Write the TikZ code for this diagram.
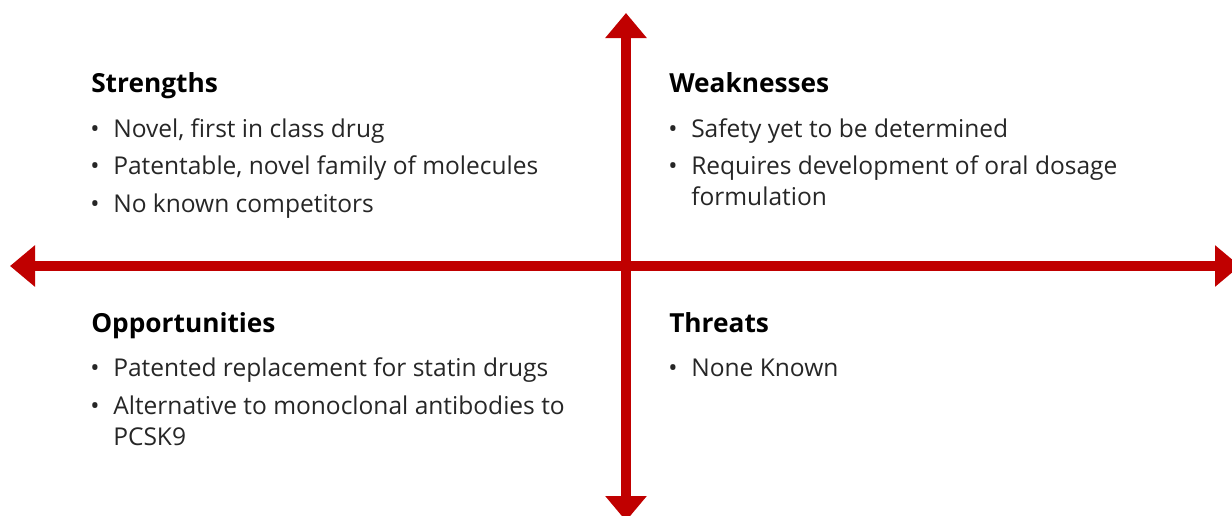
\documentclass[tikz,border=0pt]{standalone}
\usepackage{fontspec}
\setmainfont{Open Sans}
\usetikzlibrary{arrows.meta}
\definecolor{axisred}{HTML}{C00000}
\begin{document}
\begin{tikzpicture}[x=0.75pt,y=-0.75pt,
  axis/.style={draw=axisred,line width=7.5pt,{Triangle[length=18.75pt,width=30pt]}-{Triangle[length=18.75pt,width=30pt]}, fill=axisred},
  head/.style={anchor=base west,inner sep=0pt,font=\fontsize{19.7pt}{24pt}\selectfont\bfseries,text=black},
  item/.style={anchor=base west,inner sep=0pt,font=\fontsize{18.4pt}{22pt}\selectfont,text=black!85},
  dot/.style={anchor=base west,inner sep=0pt,font=\fontsize{18.4pt}{22pt}\selectfont,text=black!85}]
\useasboundingbox (0,0) rectangle (1232,515);
\coordinate (T) at (626,13);
\coordinate (B) at (626,521);
\coordinate (L) at (10,266);
\coordinate (R) at (1240,266);
\draw[axis] (L) -- (R);
\draw[axis] (T) -- (B);
% Strengths
\node[head] (sh) at (91,92) {Strengths};
\node[dot] (sd1) at (90,137) {•}; \node[item] (s1) at (113,137) {Novel, first in class drug};
\node[dot] (sd2) at (90,174) {•}; \node[item] (s2) at (113,174) {Patentable, novel family of molecules};
\node[dot] (sd3) at (90,212) {•}; \node[item] (s3) at (113,212) {No known competitors};
% Weaknesses
\node[head] (wh) at (669,92) {Weaknesses};
\node[dot] (wd1) at (668,137) {•}; \node[item] (w1) at (691,137) {Safety yet to be determined};
\node[dot] (wd2) at (668,174) {•}; \node[item] (w2) at (691,174) {Requires development of oral dosage};
\node[item] (w2b) at (691,205) {formulation};
% Opportunities
\node[head] (oh) at (91,332) {Opportunities};
\node[dot] (od1) at (90,376) {•}; \node[item] (o1) at (113,376) {Patented replacement for statin drugs};
\node[dot] (od2) at (90,414) {•}; \node[item] (o2) at (113,414) {Alternative to monoclonal antibodies to};
\node[item] (o2b) at (113,445) {PCSK9};
% Threats
\node[head] (th) at (669,332) {Threats};
\node[dot] (td1) at (668,376) {•}; \node[item] (t1) at (691,376) {None Known};
\end{tikzpicture}
\end{document}
